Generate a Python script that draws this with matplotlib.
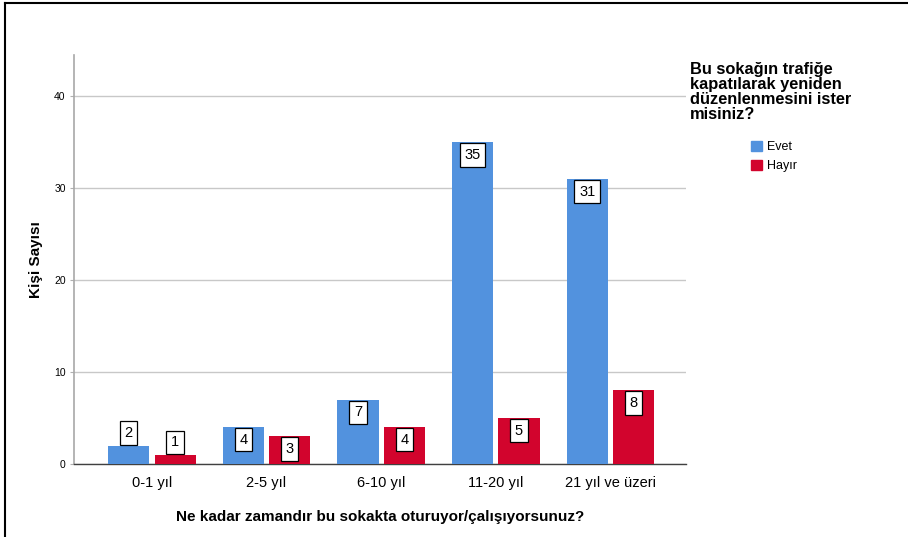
import numpy as np
import matplotlib
matplotlib.use("Agg")
import matplotlib.pyplot as plt
from matplotlib.lines import Line2D
from matplotlib.patches import Patch

plt.rcParams['font.family'] = ['Liberation Sans', 'DejaVu Sans']

# data
categories = ['0-1 yıl', '2-5 yıl', '6-10 yıl', '11-20 yıl', '21 yıl ve üzeri']
evet = [2, 4, 7, 35, 31]
hayir = [1, 3, 4, 5, 8]
series_names = ['Evet', 'Hayır']
yticks = [0, 10, 20, 30, 40]

blue = '#5292DE'
red = '#D2042D'

W, H = 908, 537
fig = plt.figure(figsize=(W / 100, H / 100), dpi=100)

# axes placed in pixel coords
left, right, top, bottom = 74, 686, 55, 464
ax = fig.add_axes([left / W, 1 - bottom / H, (right - left) / W, (bottom - top) / H])

x = np.arange(len(categories))
bw = 0.36
gap = 0.045
xb = x - bw / 2 - gap / 2
xr = x + bw / 2 + gap / 2
ax.bar(xb, evet, bw, color=blue, zorder=3)
ax.bar(xr, hayir, bw, color=red, zorder=3)

# value labels in boxes
box = dict(boxstyle='square,pad=0.32', fc='white', ec='black', lw=0.9)
for xs, vals in [(xb, evet), (xr, hayir)]:
    for xi, v in zip(xs, vals):
        if v >= 3:
            ax.annotate(str(v), (xi, v), xytext=(0, -4), textcoords='offset points',
                        ha='center', va='top', fontsize=10.5, bbox=box, zorder=4)
        else:
            ax.annotate(str(v), (xi, v), xytext=(0, 4), textcoords='offset points',
                        ha='center', va='bottom', fontsize=10.5, bbox=box, zorder=4)

ax.set_xlim(-0.68, 4.66)
ax.set_ylim(0, 44.5)
ax.set_yticks(yticks)
ax.set_yticklabels([str(t) for t in yticks], fontsize=7.5)
ax.set_xticks(x)
ax.set_xticklabels(categories, fontsize=10.5)
ax.tick_params(axis='x', length=0, pad=9)
ax.tick_params(axis='y', length=3, color='#b0b0b0', pad=3)
ax.yaxis.grid(True, color='#c8c8c8', lw=1, zorder=0)
ax.set_axisbelow(True)

for s in ['top', 'right']:
    ax.spines[s].set_visible(False)
ax.spines['left'].set_color('#a8a8a8')
ax.spines['left'].set_linewidth(1.2)
ax.spines['bottom'].set_color('#404040')
ax.spines['bottom'].set_linewidth(1.0)

ax.set_xlabel('Ne kadar zamandır bu sokakta oturuyor/çalışıyorsunuz?',
              fontsize=11, fontweight='bold', labelpad=14)
ax.set_ylabel('Kişi Sayısı', fontsize=11, fontweight='bold', labelpad=8)

# legend title + entries
fig.text(690 / W, 1 - 62 / H,
         'Bu sokağın trafiğe\nkapatılarak yeniden\ndüzenlenmesini ister\nmisiniz?',
         fontsize=11.8, fontweight='bold', va='top', ha='left', linespacing=1.0)
handles = [Patch(color=blue), Patch(color=red)]
fig.legend(handles, series_names, loc='upper left',
           bbox_to_anchor=(751 / W, 1 - 141 / H), frameon=False, fontsize=9,
           handlelength=0.9, handleheight=0.9, handletextpad=0.4,
           labelspacing=0.5, borderaxespad=0, borderpad=0)

# frame lines on left and top of the image
fig.add_artist(Line2D([4.5 / W, 4.5 / W], [0, 1 - 3 / H], color='black', lw=1.5,
                      transform=fig.transFigure))
fig.add_artist(Line2D([4.5 / W, 1], [1 - 3 / H, 1 - 3 / H], color='black', lw=1.5,
                      transform=fig.transFigure))

fig.savefig('out.png', dpi=100)
